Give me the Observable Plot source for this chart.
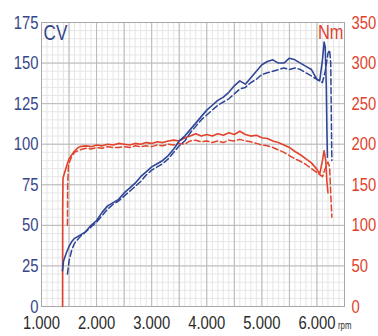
<!DOCTYPE html>
<html>
<head>
<meta charset="utf-8">
<script src="https://cdn.jsdelivr.net/npm/d3@7"></script>
<script src="https://cdn.jsdelivr.net/npm/@observablehq/plot@0.6"></script>
<style>
  html, body { margin: 0; padding: 0; background: #fff; }
</style>
</head>
<body>
<div id="chart"></div>
<script>
// ---- data ----
const xTicks = [1000, 2000, 3000, 4000, 5000, 6000];
const xTickLabels = ["1.000", "2.000", "3.000", "4.000", "5.000", "6.000"];
const cvTicks = [0, 25, 50, 75, 100, 125, 150, 175];
const nmTicks = [0, 50, 100, 150, 200, 250, 300, 350];

// Power (CV), run 1 (solid)
const powerSolidRpm = [1380,1400,1450,1500,1550,1600,1700,1800,1900,2000,2100,2200,2300,2400,2500,2600,2700,2800,2900,3000,3100,3200,3300,3400,3500,3600,3700,3800,3900,4000,4100,4200,4300,4400,4500,4600,4700,4800,4900,5000,5100,5200,5300,5400,5500,5600,5700,5800,5900,6000,6050,6100,6130,6150,6170,6180,6190];
const powerSolidCv  = [22,28,33,37,40,42,44,46,50,53,58,62,64,66,70,73,76,80,83,86,88,90,93,97,102,105,109,113,117,121,124,127,129,132,136,139,137,141,145,149,151,152,150,150,153,152,150,148,146,140,139,152,163,160,135,110,92];

// Power (CV), run 2 (dashed)
const powerDashRpm = [1470,1500,1550,1600,1700,1800,1900,2000,2100,2200,2300,2400,2500,2600,2700,2800,2900,3000,3100,3200,3300,3400,3500,3600,3700,3800,3900,4000,4100,4200,4300,4400,4500,4600,4700,4800,4900,5000,5100,5200,5300,5400,5500,5600,5700,5800,5900,6000,6100,6150,6200,6230,6250,6260,6270];
const powerDashCv  = [20,28,35,39,43,46,49,52,56,60,63,65,68,71,74,77,81,84,86,88,91,95,99,102,107,111,115,118,121,124,126,128,131,134,135,138,140,143,144,145,146,147,146,147,146,144,142,140,138,145,156,158,150,120,90];

// Torque (Nm), run 1 (solid)
const torqueSolidRpm = [1382,1384,1390,1450,1500,1580,1650,1700,1800,1900,2000,2100,2200,2300,2400,2500,2600,2700,2800,2900,3000,3100,3200,3300,3400,3500,3600,3700,3800,3900,4000,4100,4200,4300,4400,4500,4600,4700,4800,4900,5000,5100,5200,5300,5400,5500,5600,5700,5800,5900,6000,6050,6100,6130,6160,6180,6200];
const torqueSolidNm  = [0,120,158,172,182,190,195,197,198,197,199,198,200,199,201,200,199,201,200,202,201,203,202,204,205,204,208,210,213,210,212,210,213,211,214,212,216,212,210,211,208,207,204,202,199,196,191,187,182,177,169,163,180,192,180,155,140];

// Torque (Nm), run 2 (dashed)
const torqueDashRpm = [1470,1475,1490,1550,1600,1700,1800,1900,2000,2100,2200,2300,2400,2500,2600,2700,2800,2900,3000,3100,3200,3300,3400,3500,3600,3700,3800,3900,4000,4100,4200,4300,4400,4500,4600,4700,4800,4900,5000,5100,5200,5300,5400,5500,5600,5700,5800,5900,6000,6100,6150,6200,6230,6250,6270];
const torqueDashNm  = [100,150,175,185,190,193,195,194,196,195,197,196,196,197,196,198,197,198,197,199,198,200,199,201,200,204,205,203,204,202,204,202,205,204,206,204,203,201,199,198,196,193,190,186,182,179,175,170,165,160,170,178,172,140,110];

// grid values
const majorX = d3.range(1000, 6501, 500);
const minorX = d3.range(1000, 6501, 100);
const majorY = d3.range(0, 176, 25);
const minorY = d3.range(0, 176, 5);

// ---- styling ----
const BLUE = "#2f4596";
const RED = "#e2432b";
const BLUE_TXT = "#36468a";
const RED_TXT = "#e23f2c";
const FONT = "'Liberation Sans', Arial, sans-serif";

const toRows = (xs, ys) => xs.map((x, i) => ({x, y: ys[i]}));
const pSolid = toRows(powerSolidRpm, powerSolidCv);
const pDash = toRows(powerDashRpm, powerDashCv);
const tSolid = toRows(torqueSolidRpm, torqueSolidNm);
const tDash = toRows(torqueDashRpm, torqueDashNm);

const chart = Plot.plot({
  width: 378,
  height: 336,
  marginLeft: 41,
  marginRight: 34,
  marginTop: 22,
  marginBottom: 30,
  style: {fontFamily: FONT, background: "#fff", overflow: "visible"},
  x: {domain: [1000, 6500]},
  y: {domain: [0, 175]},
  marks: [
    Plot.ruleX(minorX, {stroke: "#e6e6e6", strokeWidth: 1}),
    Plot.ruleY(minorY, {stroke: "#e6e6e6", strokeWidth: 1}),
    Plot.ruleX(majorX, {stroke: "#b8b8b8", strokeWidth: 1}),
    Plot.ruleY(majorY, {stroke: "#b8b8b8", strokeWidth: 1}),
    Plot.frame({stroke: "#a8a8a8"}),
    Plot.axisX({ticks: xTicks, tickFormat: (d) => xTickLabels[xTicks.indexOf(d)], tickSize: 0, tickPadding: 9, fontSize: 19, color: "#2a2a2a", label: null}),
    Plot.axisY({ticks: cvTicks, anchor: "left", tickSize: 0, tickPadding: 3, fontSize: 19, color: BLUE_TXT, label: null}),
    Plot.axisY({ticks: nmTicks.map(d => d / 2), anchor: "right", tickFormat: (d) => String(d * 2), tickSize: 0, tickPadding: 7, fontSize: 19, color: RED_TXT, label: null}),
    Plot.text(["rpm"], {x: 6000, frameAnchor: "bottom", dx: 21, dy: 22, textAnchor: "start", fontSize: 10, fill: "#2a2a2a"}),
    Plot.text(["CV"], {frameAnchor: "top-left", dx: 2, dy: 2, lineAnchor: "top", textAnchor: "start", fontSize: 22, fill: BLUE_TXT}),
    Plot.text(["Nm"], {frameAnchor: "top-right", dx: -1, dy: 2, lineAnchor: "top", textAnchor: "end", fontSize: 21, fill: RED_TXT}),
    Plot.line(tDash, {x: "x", y: (d) => d.y / 2, stroke: RED, strokeWidth: 1.5, strokeDasharray: "6,3"}),
    Plot.line(tSolid, {x: "x", y: (d) => d.y / 2, stroke: RED, strokeWidth: 1.6}),
    Plot.line(pDash, {x: "x", y: "y", stroke: BLUE, strokeWidth: 1.5, strokeDasharray: "6,3"}),
    Plot.line(pSolid, {x: "x", y: "y", stroke: BLUE, strokeWidth: 1.6})
  ]
});
document.getElementById("chart").appendChild(chart);

// condense the lettering (the reference uses a narrow typeface)
chart.querySelectorAll("text").forEach((el) => {
  const w = el.getComputedTextLength();
  if (w > 0) {
    el.setAttribute("textLength", (w * 0.78).toFixed(2));
    el.setAttribute("lengthAdjust", "spacingAndGlyphs");
  }
});
</script>
</body>
</html>
